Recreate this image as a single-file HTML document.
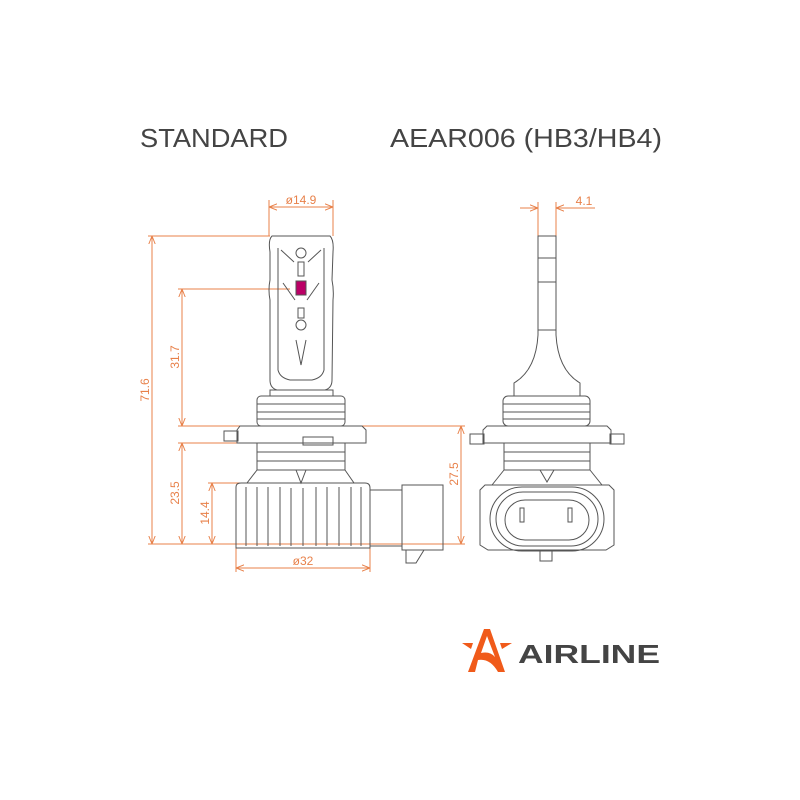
<!DOCTYPE html>
<html><head><meta charset="utf-8"><style>html,body{margin:0;padding:0;background:#fff}svg{display:block}</style></head>
<body>
<svg width="800" height="800" viewBox="0 0 800 800" xmlns="http://www.w3.org/2000/svg">
<rect width="800" height="800" fill="#fff"/>
<g font-family="Liberation Sans, sans-serif" fill="#444">
<text x="140" y="147" font-size="26" textLength="148" lengthAdjust="spacingAndGlyphs">STANDARD</text>
<text x="390" y="147" font-size="26" textLength="272" lengthAdjust="spacingAndGlyphs">AEAR006 (HB3/HB4)</text>
</g>
<defs>
<marker id="a" viewBox="0 0 10 10" refX="10" refY="5" markerWidth="8" markerHeight="8" orient="auto-start-reverse" markerUnits="userSpaceOnUse"><path d="M0,1 L10,5 L0,9" fill="none" stroke="#e8814a" stroke-width="1.2"/></marker>
</defs>
<g stroke="#e8814a" stroke-width="1" fill="none">
<line x1="269" y1="200" x2="269" y2="236"/><line x1="333" y1="200" x2="333" y2="236"/>
<line x1="269" y1="207" x2="333" y2="207" marker-start="url(#a)" marker-end="url(#a)"/>
<line x1="148" y1="236" x2="270" y2="236"/>
<line x1="152" y1="236" x2="152" y2="544" marker-start="url(#a)" marker-end="url(#a)"/>
<line x1="178" y1="289" x2="290" y2="289"/>
<line x1="182" y1="289" x2="182" y2="426" marker-start="url(#a)" marker-end="url(#a)"/>
<line x1="178" y1="426" x2="465" y2="426"/>
<line x1="178" y1="443" x2="260" y2="443"/>
<line x1="182" y1="443" x2="182" y2="544" marker-start="url(#a)" marker-end="url(#a)"/>
<line x1="208" y1="483" x2="240" y2="483"/>
<line x1="212" y1="483" x2="212" y2="544" marker-start="url(#a)" marker-end="url(#a)"/>
<line x1="148" y1="544" x2="465" y2="544"/>
<line x1="461" y1="426" x2="461" y2="544" marker-start="url(#a)" marker-end="url(#a)"/>
<line x1="236" y1="544" x2="236" y2="572"/><line x1="370" y1="544" x2="370" y2="572"/>
<line x1="236" y1="568" x2="370" y2="568" marker-start="url(#a)" marker-end="url(#a)"/>
<line x1="538" y1="202" x2="538" y2="236"/><line x1="556" y1="202" x2="556" y2="236"/>
<line x1="520" y1="208" x2="538" y2="208" marker-end="url(#a)"/>
<line x1="595" y1="208" x2="556" y2="208" marker-end="url(#a)"/>
</g>
<g font-family="Liberation Sans, sans-serif" font-size="12" fill="#e8814a">
<text x="301" y="204" text-anchor="middle">ø14.9</text>
<text x="303" y="565" text-anchor="middle">ø32</text>
<text x="584" y="205" text-anchor="middle">4.1</text>
<text transform="translate(149,390) rotate(-90)" text-anchor="middle">71.6</text>
<text transform="translate(179,357) rotate(-90)" text-anchor="middle">31.7</text>
<text transform="translate(179,493) rotate(-90)" text-anchor="middle">23.5</text>
<text transform="translate(209,513) rotate(-90)" text-anchor="middle">14.4</text>
<text transform="translate(458,474) rotate(-90)" text-anchor="middle">27.5</text>
</g>
<g stroke="#555" stroke-width="1" fill="none">
<path d="M272,236 L330,236 Q334,240 333,252 L332,280 Q334,290 333,300 L332,380 Q332,388 325,390 L277,390 Q270,388 270,380 L270,300 Q268,290 270,280 L270,252 Q268,240 272,236Z"/>
<path d="M278,248 L278,370 Q280,378 290,380 L312,380 Q322,378 324,370 L324,248"/>
<circle cx="301" cy="253" r="5"/><circle cx="301" cy="325" r="5"/>
<rect x="298" y="262" width="6" height="14"/><rect x="298" y="308" width="6" height="10"/>
<rect x="296" y="281" width="10" height="14" fill="#b06"/>
<path d="M296,340 L301,365 L306,340"/>
<path d="M281,250 L294,262 M321,250 L308,262 M283,283 L295,300 M319,283 L307,300"/>
<rect x="270" y="390" width="63" height="6"/>
<rect x="257" y="396" width="88" height="30" rx="4"/>
<line x1="257" y1="404" x2="345" y2="404"/><line x1="257" y1="412" x2="345" y2="412"/><line x1="257" y1="419" x2="345" y2="419"/>
<path d="M237,443 L237,430 L240,426 L362,426 L366,430 L366,443 Z"/>
<rect x="224" y="431" width="14" height="10"/><rect x="303" y="437" width="30" height="8"/>
<rect x="257" y="443" width="88" height="27"/>
<line x1="257" y1="452" x2="345" y2="452"/><line x1="257" y1="461" x2="345" y2="461"/>
<path d="M257,470 L247,483 L354,483 L345,470"/>
<path d="M236,548 L236,487 Q236,483 241,483 L365,483 Q370,483 370,488 L370,548 Z"/>
<path d="M246,487 L246,546 M257,487 L257,546 M268,487 L268,546 M280,487 L280,546 M291,488 L291,546 M303,488 L303,546 M316,487 L316,546 M327,487 L327,546 M339,487 L339,546 M351,487 L351,546 M361,487 L361,546"/>
<path d="M296,470 L301,483 L306,470"/>
<path d="M370,490 L402,490 M370,546 L402,546"/>
<line x1="370" y1="494" x2="370" y2="544" stroke-dasharray="3,2"/>
<rect x="402" y="485" width="41" height="65"/>
<path d="M406,550 L406,563 L416,563 L424,550"/>
</g>
<g stroke="#555" stroke-width="1" fill="none">
<path d="M538,236 L556,236 L556,335 Q558,370 580,383 L580,396 L514,396 L514,383 Q536,370 538,335 Z"/>
<line x1="538" y1="258" x2="556" y2="258"/><line x1="538" y1="282" x2="556" y2="282"/><line x1="538" y1="330" x2="556" y2="330"/>
<rect x="503" y="396" width="87" height="30" rx="5"/>
<line x1="503" y1="404" x2="590" y2="404"/><line x1="503" y1="412" x2="590" y2="412"/><line x1="503" y1="419" x2="590" y2="419"/>
<path d="M483,443 L483,430 L487,426 L607,426 L611,430 L611,443 Z"/>
<rect x="470" y="434" width="14" height="10"/><rect x="610" y="434" width="14" height="10"/>
<rect x="504" y="443" width="86" height="27"/>
<line x1="504" y1="452" x2="590" y2="452"/><line x1="504" y1="461" x2="590" y2="461"/>
<path d="M504,470 L492,485 M590,470 L602,485"/>
<path d="M540,470 L547,482 L554,470"/>
<path d="M485,485 L609,485 L614,490 L614,545 L606,550 L488,550 L480,545 L480,490 Z"/>
<rect x="490" y="487" width="114" height="64" rx="32"/>
<rect x="496" y="492" width="102" height="54" rx="27"/>
<rect x="505" y="500" width="84" height="40" rx="20"/>
<rect x="520" y="508" width="4" height="14"/><rect x="568" y="508" width="4" height="14"/>
<rect x="540" y="551" width="12" height="10"/>
</g>
<g fill="#f05a1a">
<path d="M484,629 L490,629 L505,672 L498,672 Q490,658 478,660 L475,672 L468,672 Z M481,653 Q490,651 495,657 L487,636 Z"/>
<path d="M462,643 L473,643 L471,649 Z M500,643 L512,643 L502,649 Z"/>
</g>
<text x="518" y="663" font-family="Liberation Sans, sans-serif" font-weight="bold" font-size="26" fill="#444" textLength="142" lengthAdjust="spacingAndGlyphs">AIRLINE</text>
</svg>
</body></html>
